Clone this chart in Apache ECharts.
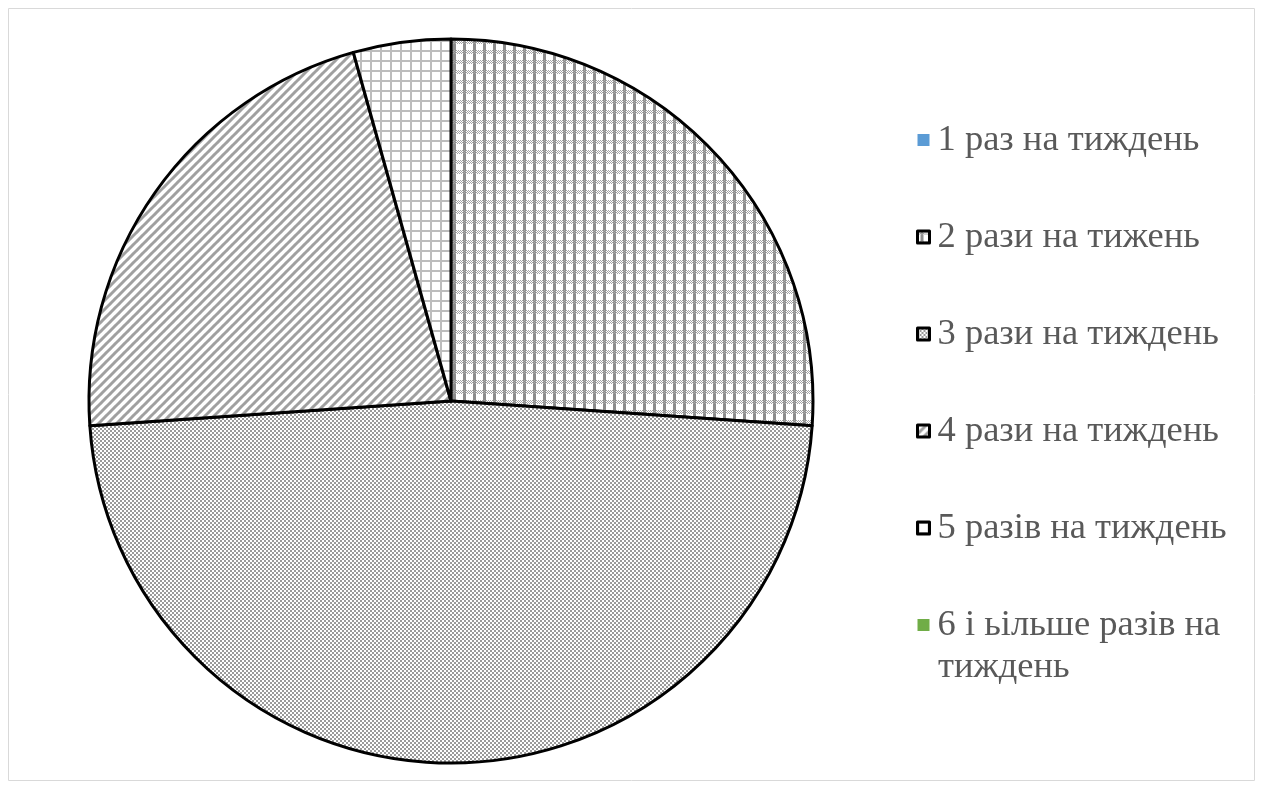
<!DOCTYPE html>
<html>
<head>
<meta charset="utf-8">
<script src="https://cdn.jsdelivr.net/npm/echarts@6/dist/echarts.min.js"></script>
<style>
html,body{margin:0;padding:0;background:#fff;}
#chart{width:1263px;height:787px;}
</style>
</head>
<body>
<div id="chart"></div>
<script>
// Weekly frequency categories and respondent counts
const categories = [
  '1 раз на тиждень',
  '2 рази на тижень',
  '3 рази на тиждень',
  '4 рази на тиждень',
  '5 разів на тиждень',
  '6 і ьільше разів на тиждень'
];
const counts = [0, 6, 11, 5, 1, 0];

// Small tiles used as fill patterns for the slices
function tile(w, h, draw) {
  const c = document.createElement('canvas');
  c.width = w; c.height = h;
  const g = c.getContext('2d');
  g.fillStyle = '#fff';
  g.fillRect(0, 0, w, h);
  draw(g);
  return { image: c, repeat: 'repeat' };
}
// plaid: vertical bars crossed by a dotted band
const plaid = tile(10, 10, g => {
  g.fillStyle = '#8c8c8c';
  g.fillRect(3, 0, 3, 10);
  g.fillStyle = '#a6a6a6';
  for (let x = 0; x < 10; x++) {
    for (let y = 0; y < 4; y++) {
      if ((x + y) % 2 === 0) g.fillRect(x, y, 1, 1);
    }
  }
});
// fine checkerboard
const checker = tile(4, 4, g => {
  g.fillStyle = '#9a9a9a';
  g.fillRect(0, 0, 2, 2);
  g.fillRect(2, 2, 2, 2);
});
// diagonal stripes
const diag = tile(9, 9, g => {
  g.strokeStyle = '#a0a0a0';
  g.lineWidth = 3;
  for (let k = -1; k <= 1; k++) {
    g.beginPath();
    g.moveTo(k * 9 - 1, 10);
    g.lineTo(k * 9 + 10, -1);
    g.stroke();
  }
});
// square grid
const grid = tile(10, 10, g => {
  g.fillStyle = '#bdbdbd';
  g.fillRect(0, 0, 10, 2);
  g.fillRect(0, 0, 2, 10);
});

const fills = ['#5B9BD5', plaid, checker, diag, grid, '#70AD47'];
const bordered = [false, true, true, true, true, false];
const lastName = categories[categories.length - 1];
// the last legend label wraps after "на"
const wrapAt = lastName.lastIndexOf(' ');
const lastLine1 = lastName.slice(0, wrapAt);
const lastLine2 = lastName.slice(wrapAt + 1);

const FONT = 'Liberation Serif';
const FONT_SIZE = 36.5;
const TEXT_COLOR = '#595959';

const chart = echarts.init(document.getElementById('chart'));
chart.setOption({
  animation: false,
  graphic: [{
    type: 'rect',
    shape: { x: 8.5, y: 8.5, width: 1246, height: 772 },
    style: { fill: 'none', stroke: '#d9d9d9', lineWidth: 1 },
    silent: true
  }, {
    // continuation line of the wrapped legend label
    type: 'text',
    x: 938,
    y: 667,
    silent: true,
    style: {
      text: lastLine2,
      font: FONT_SIZE + 'px "' + FONT + '"',
      fill: TEXT_COLOR,
      verticalAlign: 'middle',
      align: 'left'
    }
  }],
  legend: {
    orient: 'vertical',
    left: 911,
    top: 114,
    itemWidth: 12,
    itemHeight: 12,
    itemGap: 55,
    icon: 'rect',
    formatter: name => name === lastName ? lastLine1 : name,
    data: categories.map((name, i) => ({
      name,
      itemStyle: bordered[i]
        ? { borderColor: '#000', borderWidth: 3 }
        : { borderWidth: 0 }
    })),
    textStyle: {
      fontFamily: FONT,
      fontSize: FONT_SIZE,
      color: TEXT_COLOR,
      lineHeight: 42,
      padding: [0, 0, 0, 3]
    }
  },
  series: [{
    type: 'pie',
    center: [451, 401],
    radius: [0, 362],
    startAngle: 90,
    clockwise: true,
    label: { show: false },
    labelLine: { show: false },
    emphasis: { disabled: true },
    data: categories.map((name, i) => ({
      name,
      value: counts[i],
      itemStyle: {
        color: fills[i],
        borderColor: bordered[i] ? '#000' : 'transparent',
        borderWidth: bordered[i] ? 3 : 0
      }
    }))
  }]
});
</script>
</body>
</html>
